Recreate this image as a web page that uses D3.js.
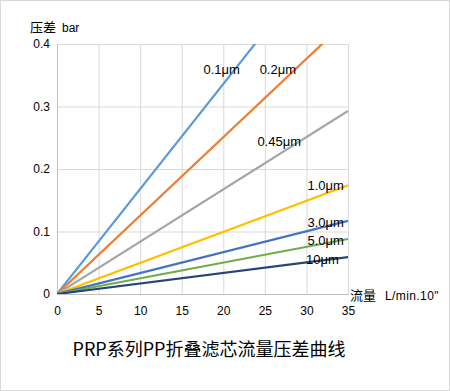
<!DOCTYPE html>
<html>
<head>
<meta charset="utf-8">
<script src="https://cdn.jsdelivr.net/npm/d3@7"></script>
<style>
  body { margin: 0; background: #fff; }
  svg { display: block; }
  text { font-family: "Liberation Sans", "Noto Sans CJK SC", sans-serif; fill: #000; }
</style>
</head>
<body>
<div id="chart"></div>
<script>

// filter grades and their pressure drop at 35 L/min (0 at 0 flow)
var grades = ["0.1\u03bcm", "0.2\u03bcm", "0.45\u03bcm", "1.0\u03bcm", "3.0\u03bcm", "5.0\u03bcm", "10\u03bcm"];
var flowPoints = [0, 35];
var dropAt35 = [0.588, 0.439, 0.293, 0.174, 0.117, 0.088, 0.059];
var colors = ["#5B9BD5", "#ED7D31", "#A5A5A5", "#FFC000", "#4472C4", "#70AD47", "#264478"];

// where each label ends, in data units
var labelFlow = [22.0, 28.75, 29.35, 34.5, 34.5, 34.5, 33.9];
var labelDrop = [0.352, 0.352, 0.237, 0.166, 0.107, 0.078, 0.048];

var xTicks = [0, 5, 10, 15, 20, 25, 30, 35];
var yTicks = [0, 0.1, 0.2, 0.3, 0.4];

var title = "PRP\u7cfb\u5217PP\u6298\u53e0\u6ee4\u82af\u6d41\u91cf\u538b\u5dee\u66f2\u7ebf";
var yTitle = "\u538b\u5dee";
var yUnit = "bar";
var xTitle = "\u6d41\u91cf";
var xUnit = "L/min.10\"";

var full_width = 450, full_height = 391;
var margin = {left: 57, top: 44, right: 102, bottom: 97};
var width = full_width - margin.left - margin.right;
var height = full_height - margin.top - margin.bottom;

var svg = d3.select("#chart").append("svg")
    .attr("width", full_width)
    .attr("height", full_height);

svg.append("rect")
    .attr("x", 0.5).attr("y", 0.5)
    .attr("width", full_width - 1).attr("height", full_height - 1)
    .style("fill", "white")
    .style("stroke", "#d9d9d9");

var x = d3.scaleLinear().domain([0, 35]).range([0, width]);
var y = d3.scaleLinear().domain([0, 0.4]).range([height, 0]);

var chart = svg.append("g")
    .attr("transform", "translate(" + margin.left + "," + margin.top + ")");

// grid
chart.append("g")
    .attr("transform", "translate(0," + height + ")")
    .call(d3.axisBottom(x).tickValues(xTicks).tickSize(-height).tickFormat(""))
    .call(function(g){ g.select(".domain").remove(); })
    .selectAll("line").style("stroke", "#d9d9d9");

chart.append("g")
    .call(d3.axisLeft(y).tickValues(yTicks).tickSize(-width).tickFormat(""))
    .call(function(g){ g.select(".domain").remove(); })
    .selectAll("line").style("stroke", "#d9d9d9");

// axes
var xAxis = chart.append("g")
    .attr("transform", "translate(0," + height + ")")
    .call(d3.axisBottom(x).tickValues(xTicks).tickSize(0).tickPadding(12));
xAxis.select(".domain").style("stroke", "#bfbfbf");
xAxis.selectAll("text").style("font-size", "12px").style("font-family", "Liberation Sans");

var yAxis = chart.append("g")
    .call(d3.axisLeft(y).tickValues(yTicks).tickSize(0).tickPadding(7)
        .tickFormat(function(d){ return d === 0 ? "0" : d3.format(".1f")(d); }));
yAxis.select(".domain").style("stroke", "#bfbfbf");
yAxis.selectAll("text").style("font-size", "12px").style("font-family", "Liberation Sans");

// lines
chart.append("clipPath").attr("id", "plotClip")
    .append("rect").attr("width", width).attr("height", height);

var line = d3.line()
    .x(function(d){ return x(d[0]); })
    .y(function(d){ return y(d[1]); });

var series = grades.map(function(g, i){
    return flowPoints.map(function(f){ return [f, dropAt35[i] * f / 35]; });
});

chart.append("g").attr("clip-path", "url(#plotClip)")
    .selectAll("path").data(series).enter()
    .append("path")
    .attr("d", line)
    .style("fill", "none")
    .style("stroke", function(d, i){ return colors[i]; })
    .style("stroke-width", 2.2);

// labels
chart.selectAll(".lbl").data(grades).enter()
    .append("text")
    .attr("class", "lbl")
    .attr("x", function(d, i){ return x(labelFlow[i]); })
    .attr("y", function(d, i){ return y(labelDrop[i]); })
    .attr("text-anchor", "end")
    .style("font-size", "13px")
    .text(function(d){ return d; });

// axis titles
var yt = svg.append("text").attr("x", 30).attr("y", 32);
yt.append("tspan").style("font-family", "Noto Sans CJK SC").style("font-size", "13px").text(yTitle);
yt.append("tspan").attr("dx", 6).style("font-size", "12px").text(yUnit);

var xt = svg.append("text").attr("x", 350).attr("y", 300);
xt.append("tspan").style("font-family", "Noto Sans CJK SC").style("font-size", "13px").text(xTitle);
xt.append("tspan").attr("dx", 9).style("font-size", "12px").style("letter-spacing", "0.4px").text(xUnit);

svg.append("text")
    .attr("x", 209).attr("y", 356)
    .attr("text-anchor", "middle")
    .style("font-family", "Noto Sans CJK SC")
    .style("font-size", "18px")
    .text(title);

</script>
</body>
</html>
